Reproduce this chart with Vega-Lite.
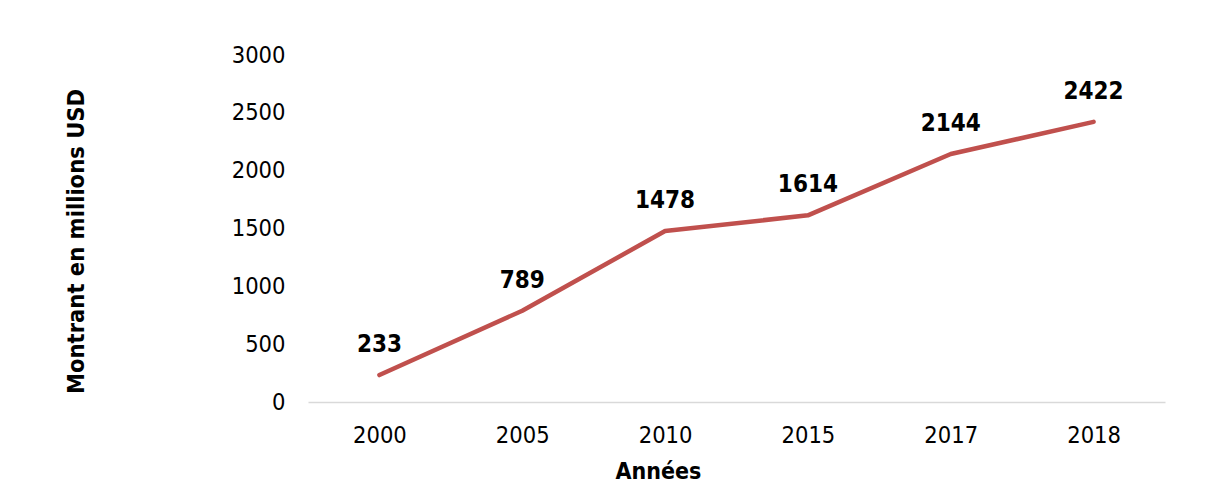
{
  "$schema": "https://vega.github.io/schema/vega-lite/v6.json",
  "autosize": "none",
  "width": 857,
  "height": 347,
  "padding": {"left": 308, "top": 55, "right": 45, "bottom": 88},
  "background": "white",
  "config": {
    "view": {"stroke": null},
    "font": "DejaVu Sans Condensed, Liberation Sans, sans-serif"
  },
  "data": {
    "values": [
      {"annee": "2000", "montant": 233},
      {"annee": "2005", "montant": 789},
      {"annee": "2010", "montant": 1478},
      {"annee": "2015", "montant": 1614},
      {"annee": "2017", "montant": 2144},
      {"annee": "2018", "montant": 2422}
    ]
  },
  "encoding": {
    "x": {
      "field": "annee",
      "type": "ordinal",
      "sort": null,
      "scale": {"type": "point", "padding": 0.5},
      "axis": {
        "title": "Années",
        "titleFontSize": 23,
        "titleFontWeight": "bold",
        "titleColor": "black",
        "titleX": 350,
        "titleY": 76,
        "titleAlign": "center",
        "titleBaseline": "alphabetic",
        "labelAngle": 0,
        "labelFontSize": 23.5,
        "labelColor": "black",
        "labelPadding": 21,
        "ticks": false,
        "domainColor": "#d9d9d9",
        "domainWidth": 1.5,
        "grid": false
      }
    },
    "y": {
      "field": "montant",
      "type": "quantitative",
      "scale": {"domain": [0, 3000]},
      "axis": {
        "title": "Montrant en millions USD",
        "titleFontSize": 23.5,
        "titleFontWeight": "bold",
        "titleColor": "black",
        "titleAngle": 270,
        "titleX": -225,
        "titleY": 186,
        "titleAlign": "center",
        "titleBaseline": "alphabetic",
        "values": [0, 500, 1000, 1500, 2000, 2500, 3000],
        "format": "d",
        "labelFontSize": 23.5,
        "labelColor": "black",
        "labelPadding": 23,
        "ticks": false,
        "domain": false,
        "grid": false
      }
    }
  },
  "layer": [
    {
      "mark": {"type": "line", "color": "#c0504d", "strokeWidth": 4.5, "strokeCap": "round", "strokeJoin": "round"}
    },
    {
      "mark": {"type": "text", "fontSize": 24, "fontWeight": "bold", "color": "black", "baseline": "alphabetic", "dy": -23},
      "encoding": {"text": {"field": "montant", "type": "quantitative", "format": "d"}}
    }
  ]
}
